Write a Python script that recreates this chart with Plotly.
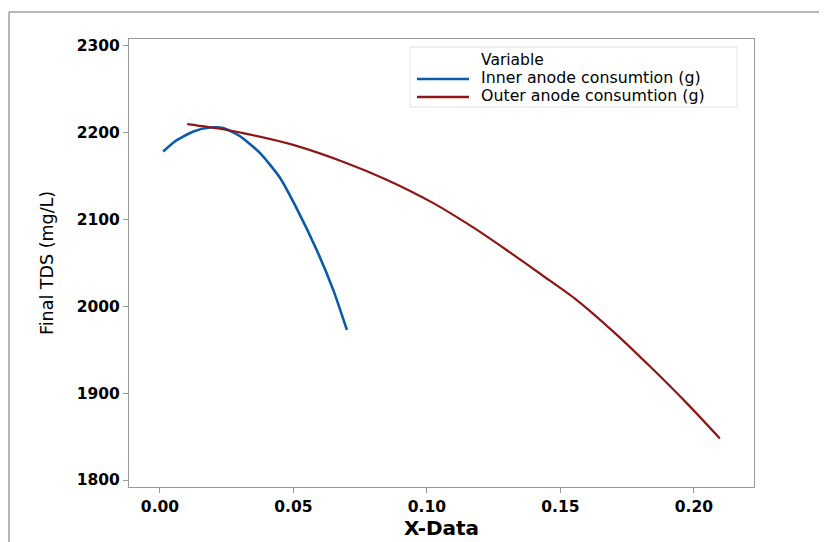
import plotly.graph_objects as go

# Inner anode consumption series
inner_x = [0.0012, 0.0056, 0.0125, 0.0187, 0.0237, 0.0300, 0.0375, 0.0450, 0.0512, 0.0587, 0.0649, 0.0700]
inner_y = [2178.5, 2190, 2201.5, 2206, 2205.4, 2196, 2176.6, 2148, 2113, 2065, 2019, 1973]

# Outer anode consumption series
outer_x = [0.0102, 0.0225, 0.0325, 0.0499, 0.0700, 0.0849, 0.1024, 0.1173, 0.1298, 0.1436,
           0.1560, 0.1698, 0.1835, 0.1973, 0.2097]
outer_y = [2210, 2204.6, 2198.8, 2186, 2165, 2146, 2119, 2091, 2065, 2035,
           2007.6, 1971, 1931, 1888.6, 1848]

series_names = ["Inner anode consumtion (g)", "Outer anode consumtion (g)"]
series_colors = ["#0B5BAA", "#8E1616"]
legend_title = "Variable"

y_ticks = [1800, 1900, 2000, 2100, 2200, 2300]
x_ticks = [0.00, 0.05, 0.10, 0.15, 0.20]

FONT = "DejaVu Sans"
AX = "#999999"

# plot area in page pixels (page has an 8px body margin)
PL, PR, PT, PB = 129, 754, 39, 487
PW, PH = PR - PL, PB - PT


def px(x):
    return (x - PL) / PW


def py(y):
    return (PB - y) / PH


fig = go.Figure()
fig.add_trace(go.Scatter(x=inner_x, y=inner_y, mode="lines", name=series_names[0],
                         line=dict(color=series_colors[0], width=2.6, shape="spline", smoothing=0.6),
                         showlegend=False))
fig.add_trace(go.Scatter(x=outer_x, y=outer_y, mode="lines", name=series_names[1],
                         line=dict(color=series_colors[1], width=2.2, shape="spline", smoothing=0.6),
                         showlegend=False))

shapes = [
    # legend box
    dict(type="rect", xref="paper", yref="paper",
         x0=px(410), x1=px(737), y0=py(107), y1=py(47),
         line=dict(color="#E2E2E2", width=1), fillcolor="rgba(0,0,0,0)"),
    # outer frame (top and left)
    dict(type="line", xref="paper", yref="paper",
         x0=px(9), x1=px(830), y0=py(12), y1=py(12),
         line=dict(color="#707070", width=1)),
    dict(type="line", xref="paper", yref="paper",
         x0=px(9), x1=px(9), y0=py(12), y1=py(545),
         line=dict(color="#707070", width=1)),
]
annotations = [
    dict(text=legend_title, xref="paper", yref="paper",
         x=px(479), y=py(60), xanchor="left", yanchor="middle",
         showarrow=False, font=dict(family=FONT, size=15.5, color="black")),
]
for i, (nm, col) in enumerate(zip(series_names, series_colors)):
    yy = [79, 97][i]
    shapes.append(dict(type="line", xref="paper", yref="paper",
                       x0=px(417), x1=px(469), y0=py(yy), y1=py(yy),
                       line=dict(color=col, width=2.5)))
    annotations.append(dict(text=nm, xref="paper", yref="paper",
                            x=px(479), y=py(yy - 1.5), xanchor="left", yanchor="middle",
                            showarrow=False,
                            font=dict(family=FONT, size=15.8, color="black")))

fig.update_layout(
    width=819, height=534,
    margin=dict(l=PL - 8, r=827 - PR, t=PT - 8, b=534 + 8 - PB, autoexpand=False),
    paper_bgcolor="white", plot_bgcolor="white",
    font=dict(family=FONT, color="black"),
    showlegend=False,
    xaxis=dict(range=[-0.0116, 0.2225], tickvals=x_ticks, tickformat=".2f",
               automargin=False,
               showgrid=False, zeroline=False, showline=True, linecolor=AX, linewidth=1,
               mirror=True, ticks="outside", ticklen=5, tickcolor=AX,
               tickfont=dict(family=FONT, size=15.5, color="black", weight="bold"),
               title=dict(text="X-Data", font=dict(family=FONT, size=20, color="black", weight="bold"),
                          standoff=6)),
    yaxis=dict(range=[1792, 2308], tickvals=y_ticks,
               automargin=False,
               showgrid=False, zeroline=False, showline=True, linecolor=AX, linewidth=1,
               mirror=True, ticks="outside", ticklen=5, tickcolor=AX,
               tickfont=dict(family=FONT, size=15.5, color="black", weight="bold"),
               title=dict(text="Final TDS (mg/L)", font=dict(family=FONT, size=17.5, color="black"),
                          standoff=18)),
    shapes=shapes,
    annotations=annotations,
)

fig.write_html("out.html")
